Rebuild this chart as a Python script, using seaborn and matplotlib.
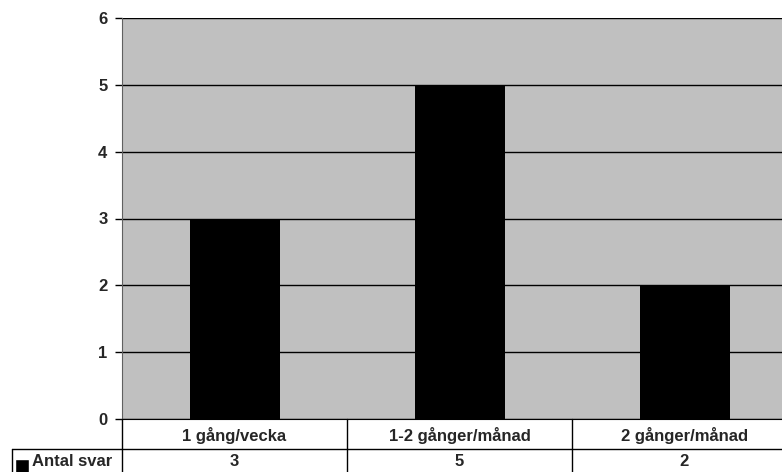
import matplotlib
matplotlib.use('Agg')
from matplotlib import pyplot as plt
import matplotlib.transforms as mtransforms
import pandas as pd
import seaborn as sns

# data
categories = ['1 gång/vecka', '1-2 gånger/månad', '2 gånger/månad']
antal_svar = [3, 5, 2]
series_name = 'Antal svar'

df = pd.DataFrame({'Kategori': categories, 'Antal': antal_svar})

sns.set_style('white')
plt.rcParams['font.family'] = ['Liberation Sans', 'DejaVu Sans']
plt.rcParams['font.weight'] = 'bold'

W, H = 782, 472
FS = 12
fig = plt.figure(figsize=(W / 100, H / 100), dpi=100)
# plot area runs past the right edge of the picture like in the reference
ax = fig.add_axes([122 / W, 1 - 419 / H, 675 / W, 401 / H])
ax.set_facecolor('#C0C0C0')

sns.barplot(data=df, x='Kategori', y='Antal', color='black', width=0.4,
            saturation=1, edgecolor='black', linewidth=0, ax=ax, zorder=3)

ax.set_ylim(0, 6)
ax.set_xlim(-0.5, 2.5)
ax.set_yticks(range(0, 7))
ax.yaxis.grid(True, color='black', linewidth=1, zorder=1)
ax.set_axisbelow(True)
ax.set_xlabel('')
ax.set_ylabel('')
ax.set_xticks([])
for s in ['top', 'right']:
    ax.spines[s].set_visible(False)
ax.spines['left'].set_color('#606060')
ax.spines['bottom'].set_color('black')
ax.tick_params(axis='y', length=5, width=1, color='black', direction='out',
               labelsize=FS, pad=5.5, left=True)
for lab in ax.get_yticklabels():
    lab.set_fontweight('bold')

# data table below the plot
trans = mtransforms.blended_transform_factory(ax.transData, fig.transFigure)
row1_y = 1 - 435 / H
row2_y = 1 - 461 / H
for i, (c, v) in enumerate(zip(categories, antal_svar)):
    fig.text(i, row1_y, c, transform=trans, ha='center', va='center',
             fontsize=FS, fontweight='bold')
    fig.text(i, row2_y, str(v), transform=trans, ha='center', va='center',
             fontsize=FS, fontweight='bold')

line_kw = dict(color='black', linewidth=1, transform=trans, clip_on=False)
y_top = 1 - 419 / H
y_mid = 1 - 449 / H
y_bot = 0.0
for xb in [-0.5, 0.5, 1.5, 2.5]:
    fig.add_artist(plt.Line2D([xb, xb], [y_top, y_bot], **line_kw))
fig.add_artist(plt.Line2D([-0.5, 2.5], [y_mid, y_mid], **line_kw))

# legend cell on the left of the value row
fig_kw = dict(color='black', linewidth=1, transform=fig.transFigure)
x0, x1 = 12 / W, 122 / W
fig.add_artist(plt.Line2D([x0, x1], [y_mid, y_mid], **fig_kw))
fig.add_artist(plt.Line2D([x0, x0], [y_mid, y_bot], **fig_kw))
fig.add_artist(plt.Rectangle((15 / W, 1 - 473 / H), 14 / W, 14 / H,
                             facecolor='black', transform=fig.transFigure))
fig.text(32 / W, row2_y, series_name, ha='left', va='center',
         fontsize=FS, fontweight='bold')

fig.savefig('out.png', dpi=100)
